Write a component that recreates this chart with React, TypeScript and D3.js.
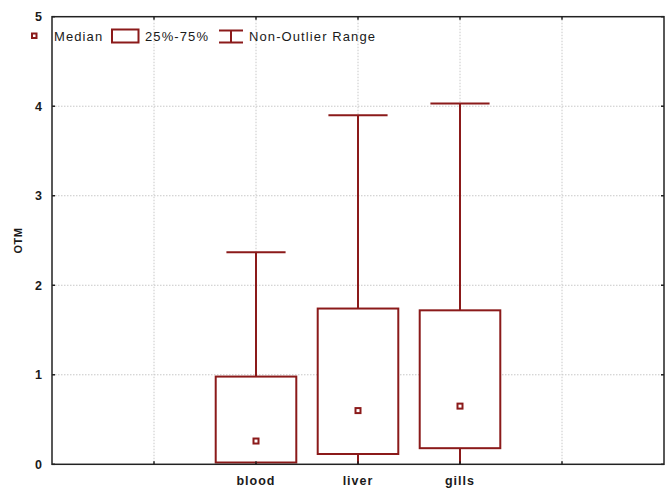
import React from "react";
import * as d3 from "d3";

// box plot data
const categories = ["blood", "liver", "gills"];
const catPositions = [2, 3, 4];
const medians = [0.26, 0.6, 0.65];
const q1 = [0.02, 0.115, 0.18];
const q3 = [0.98, 1.74, 1.72];
const whiskerMin = [0, 0, 0];
const whiskerMax = [2.37, 3.9, 4.03];

const xTicks = [1, 2, 3, 4, 5];
const xTickLabels = ["", "blood", "liver", "gills", ""];
const yTicks = [0, 1, 2, 3, 4, 5];

const width = 665;
const height = 488;
const margin = { top: 16.7, right: 1, bottom: 23.7, left: 52 };
const color = "#8b1a1a";
const textColor = "#1a1a1a";

const App: React.FC = () => {
  const x = d3
    .scaleLinear()
    .domain([0, 6])
    .range([margin.left, width - margin.right]);
  const y = d3
    .scaleLinear()
    .domain([0, 5])
    .range([height - margin.bottom, margin.top]);

  const band = x(1) - x(0);
  const boxW = band * 0.79;
  const capW = band * 0.58;
  const x0 = margin.left;
  const x1 = width - margin.right;
  const y0 = y(0);
  const y1 = y(5);

  return (
    <svg
      width={width}
      height={height}
      style={{ position: "absolute", left: 0, top: 0, background: "#fff" }}
      fontFamily="'Liberation Sans', Arial, sans-serif"
    >
      {/* grid */}
      <g stroke="#c8c8c8" strokeWidth={1} strokeDasharray="1.5,1.5">
        {xTicks.map((t) => (
          <line key={"gx" + t} x1={x(t)} x2={x(t)} y1={y1} y2={y0} />
        ))}
        {yTicks.slice(1, -1).map((t) => (
          <line key={"gy" + t} x1={x0} x2={x1} y1={y(t)} y2={y(t)} />
        ))}
      </g>

      {/* boxes */}
      {categories.map((c, i) => {
        const cx = x(catPositions[i]);
        return (
          <g key={c} stroke={color} strokeWidth={2} fill="none">
            <line x1={cx} x2={cx} y1={y(q3[i])} y2={y(whiskerMax[i])} />
            <line x1={cx} x2={cx} y1={y(q1[i])} y2={y(whiskerMin[i])} />
            <line
              x1={cx - capW / 2}
              x2={cx + capW / 2}
              y1={y(whiskerMax[i])}
              y2={y(whiskerMax[i])}
            />
            <rect
              x={cx - boxW / 2}
              y={y(q3[i])}
              width={boxW}
              height={y(q1[i]) - y(q3[i])}
              fill="#fff"
            />
            <rect
              x={cx - 2.5}
              y={y(medians[i]) - 2.5}
              width={5}
              height={5}
              fill="#fff"
            />
          </g>
        );
      })}

      {/* frame */}
      <rect
        x={x0}
        y={y1}
        width={x1 - x0}
        height={y0 - y1}
        fill="none"
        stroke="#222"
        strokeWidth={1.5}
      />

      {/* ticks */}
      <g stroke="#222" strokeWidth={1.5}>
        {xTicks.map((t) => (
          <g key={"tx" + t}>
            <line x1={x(t)} x2={x(t)} y1={y0} y2={y0 - 3} />
            <line x1={x(t)} x2={x(t)} y1={y1} y2={y1 + 3} />
          </g>
        ))}
        {yTicks.map((t) => (
          <g key={"ty" + t}>
            <line x1={x0} x2={x0 + 3} y1={y(t)} y2={y(t)} />
            <line x1={x1} x2={x1 - 3} y1={y(t)} y2={y(t)} />
          </g>
        ))}
      </g>

      {/* tick labels */}
      <g fontSize={12.5} fontWeight="bold" fill={textColor} letterSpacing={1}>
        {yTicks.map((t) => (
          <text key={"ly" + t} x={x0 - 9} y={y(t) + 4.5} textAnchor="end">
            {t}
          </text>
        ))}
        {xTicks.map((t, i) => (
          <text key={"lx" + t} x={x(t)} y={y0 + 21} textAnchor="middle">
            {xTickLabels[i]}
          </text>
        ))}
        <text
          transform={`translate(22,${(y0 + y1) / 2}) rotate(-90)`}
          textAnchor="middle"
          fontSize={11}
          letterSpacing={0.5}
        >
          OTM
        </text>
      </g>

      {/* legend */}
      <g fontSize={13} fill={textColor} letterSpacing={1.1}>
        <rect x={32} y={33.5} width={4.5} height={4.5} fill="#fff" stroke={color} strokeWidth={2} />
        <text x={54} y={41}>Median</text>
        <rect x={112} y={29.5} width={26.5} height={13} fill="#fff" stroke={color} strokeWidth={2} />
        <text x={145} y={41}>25%-75%</text>
        <g stroke={color} strokeWidth={2}>
          <line x1={219} x2={243} y1={30.5} y2={30.5} />
          <line x1={231} x2={231} y1={30.5} y2={42.5} />
          <line x1={219} x2={243} y1={42.5} y2={42.5} />
        </g>
        <text x={249} y={41}>Non-Outlier Range</text>
      </g>
    </svg>
  );
};

export default App;
